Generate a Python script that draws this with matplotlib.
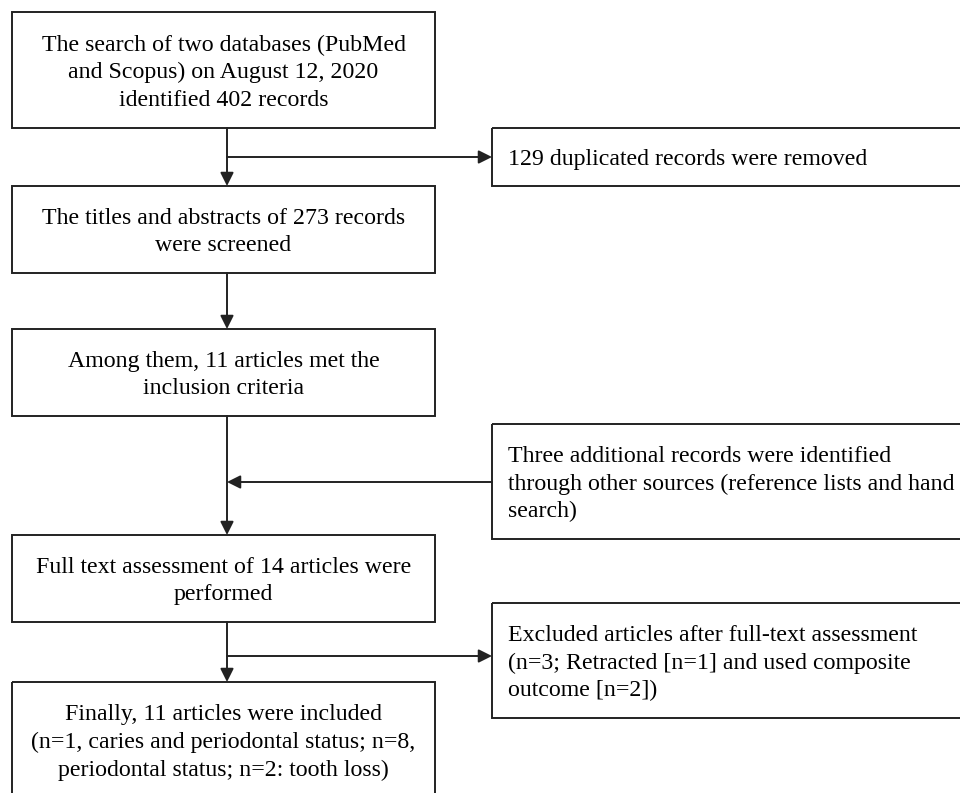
import matplotlib.pyplot as plt
from matplotlib.patches import Rectangle

# box texts
main_texts = [
    "The search of two databases (PubMed\nand Scopus) on August 12, 2020\nidentified 402 records",
    "The titles and abstracts of 273 records\nwere screened",
    "Among them, 11 articles met the\ninclusion criteria",
    "Full text assessment of 14 articles were\nperformed",
    "Finally, 11 articles were included\n(n=1, caries and periodontal status; n=8,\nperiodontal status; n=2: tooth loss)",
]
side_texts = [
    "129 duplicated records were removed",
    "Three additional records were identified\nthrough other sources (reference lists and hand\nsearch)",
    "Excluded articles after full-text assessment\n(n=3; Retracted [n=1] and used composite\noutcome [n=2])",
]

# layout in pixels (y downwards)
main_x0, main_x1 = 12, 435
main_y = [(12, 128), (186, 273), (329, 416), (535, 622), (682, 800)]
side_x0, side_x1 = 492, 970
side_y = [(128, 186), (424, 539), (603, 718)]
cx = 227

plt.rcParams['font.family'] = ['Liberation Serif', 'DejaVu Serif']
fig = plt.figure(figsize=(9.6, 7.93), dpi=100)
ax = fig.add_axes([0, 0, 1, 1])
ax.set_xlim(0, 960)
ax.set_ylim(793, 0)
ax.axis('off')

lc = '#222222'
lw = 1.4
fs = 17.2
ls = 1.4
dy = 2.5  # small downward nudge of the text

for (y0, y1), txt in zip(main_y, main_texts):
    ax.add_patch(Rectangle((main_x0, y0), main_x1 - main_x0, y1 - y0,
                           fill=False, ec=lc, lw=lw))
    ty = (y0 + y1) / 2 if y1 < 793 else 740
    ax.text((main_x0 + main_x1) / 2, ty + dy, txt, ha='center', va='center',
            fontsize=fs, linespacing=ls, color='black')

for (y0, y1), txt in zip(side_y, side_texts):
    ax.add_patch(Rectangle((side_x0, y0), side_x1 - side_x0, y1 - y0,
                           fill=False, ec=lc, lw=lw))
    ax.text(side_x0 + 16, (y0 + y1) / 2 + dy, txt, ha='left', va='center',
            fontsize=fs, linespacing=ls, color='black')

def arrow(x0, y0, x1, y1):
    ax.annotate('', xy=(x1, y1), xytext=(x0, y0),
                arrowprops=dict(arrowstyle='-|>', color=lc, lw=lw,
                                mutation_scale=20, shrinkA=0, shrinkB=0))

# vertical flow
for i in range(len(main_y) - 1):
    arrow(cx, main_y[i][1], cx, main_y[i + 1][0])

# side branches
arrow(cx, 157, side_x0, 157)
arrow(side_x0, 482, cx, 482)
arrow(cx, 656, side_x0, 656)

fig.savefig('out.png', dpi=100)
